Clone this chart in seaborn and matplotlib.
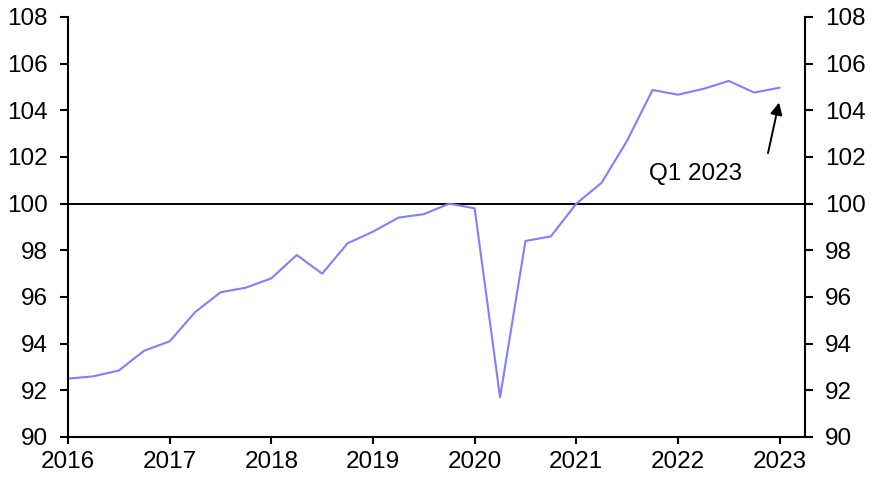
import matplotlib
matplotlib.use("Agg")
import matplotlib.pyplot as plt
import pandas as pd
import seaborn as sns

# quarterly index, 2016 Q1 to 2023 Q1
quarters = pd.period_range("2016Q1", "2023Q1", freq="Q")
index_values = [
    92.5, 92.6, 92.85, 93.7,
    94.1, 95.35, 96.2, 96.4,
    96.8, 97.8, 97.0, 98.3,
    98.8, 99.4, 99.55, 100.0,
    99.8, 91.7, 98.4, 98.6,
    100.0, 100.9, 102.7, 104.87,
    104.67, 104.92, 105.26, 104.76,
    104.97,
]
year_ticks = [2016, 2017, 2018, 2019, 2020, 2021, 2022, 2023]
y_ticks = [90, 92, 94, 96, 98, 100, 102, 104, 106, 108]
baseline = 100
label_text = "Q1 2023"

sns.set_theme(style="white")
plt.rcParams["font.family"] = ["Liberation Sans", "DejaVu Sans"]

df = pd.DataFrame({
    "x": [q.year + (q.quarter - 1) / 4 for q in quarters],
    "value": index_values,
})

fig = plt.figure(figsize=(8.8, 4.8), dpi=100)
ax = fig.add_axes([0.0773, 0.0896, 0.8375, 0.875])

sns.lineplot(data=df, x="x", y="value", ax=ax, color="#7f7fff", linewidth=1.5)
ax.axhline(baseline, color="black", linewidth=1.4, zorder=1)

ax.set_xlim(2016, 2023.25)
ax.set_ylim(90, 108)
ax.set_xticks(year_ticks)
ax.set_xticklabels([str(y) for y in year_ticks])
ax.set_yticks(y_ticks)
ax.set_xlabel("")
ax.set_ylabel("")

for side in ["left", "right", "bottom"]:
    ax.spines[side].set_visible(True)
    ax.spines[side].set_color("black")
    ax.spines[side].set_linewidth(1.5)
ax.spines["top"].set_visible(False)

ax.tick_params(axis="y", which="both", left=True, right=True, labelleft=True, labelright=True,
               direction="out", length=5.5, width=1.5, color="black", labelsize=17.5, pad=9)
ax.tick_params(axis="x", bottom=True, direction="out", length=5, width=1.5, color="black",
               labelsize=17.5, pad=5)
for lbl in ax.get_xticklabels() + ax.get_yticklabels():
    lbl.set_color("black")

last_x = df["x"].iloc[-1]
ax.annotate("", xy=(last_x, 104.45), xytext=(2022.88, 102.05),
            arrowprops=dict(arrowstyle="-|>", color="black", lw=1.4, mutation_scale=18))
ax.text(2022.17, 101.27, label_text, fontsize=17.5, ha="center", va="center", color="black")

fig.savefig("out.png", dpi=100)
